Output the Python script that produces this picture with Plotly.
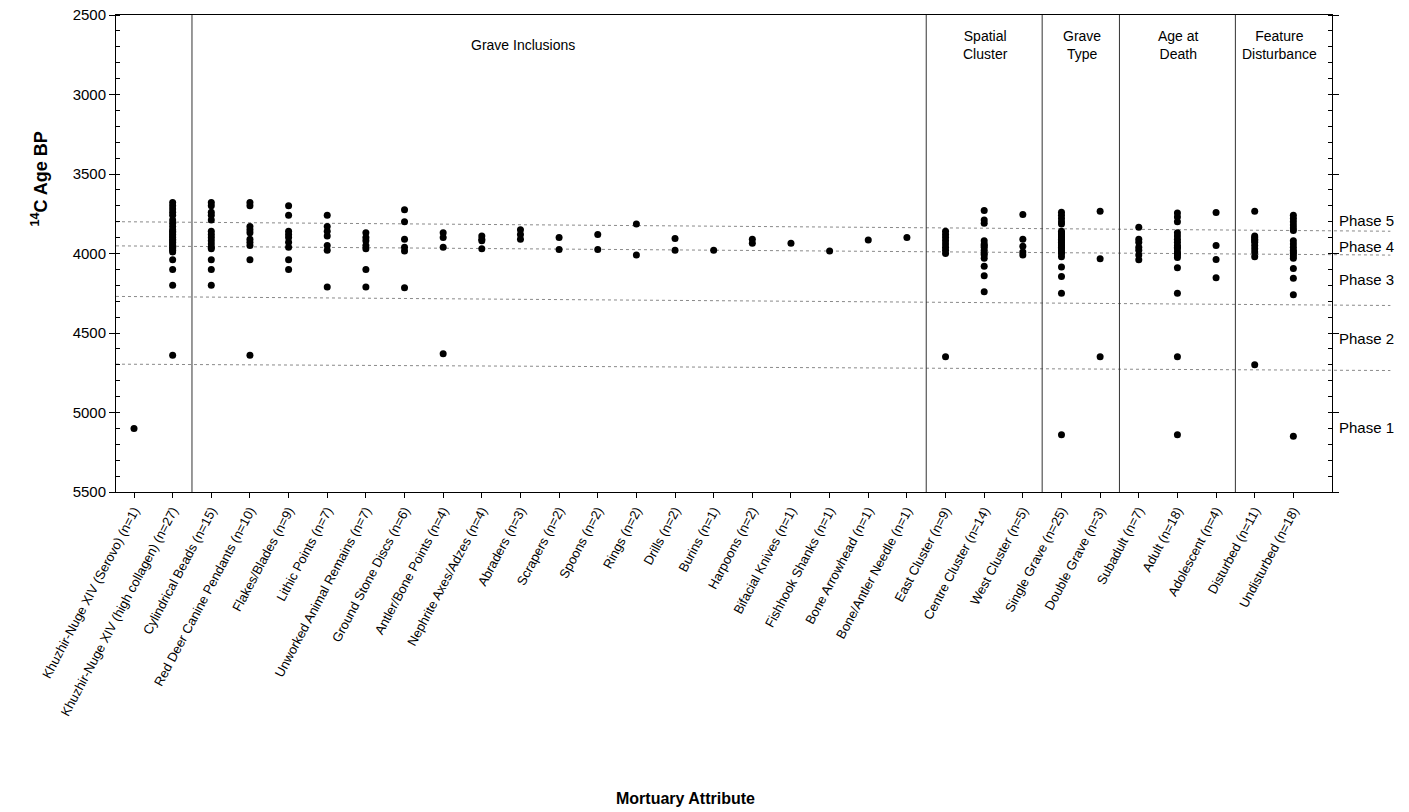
import plotly.graph_objects as go

categories = [
    "Khuzhir-Nuge XIV (Serovo) (n=1)",
    "Khuzhir-Nuge XIV (high collagen) (n=27)",
    "Cylindrical Beads (n=15)",
    "Red Deer Canine Pendants (n=10)",
    "Flakes/Blades (n=9)",
    "Lithic Points (n=7)",
    "Unworked Animal Remains (n=7)",
    "Ground Stone Discs (n=6)",
    "Antler/Bone Points (n=4)",
    "Nephrite Axes/Adzes (n=4)",
    "Abraders (n=3)",
    "Scrapers (n=2)",
    "Spoons (n=2)",
    "Rings (n=2)",
    "Drills (n=2)",
    "Burins (n=1)",
    "Harpoons (n=2)",
    "Bifacial Knives (n=1)",
    "Fishhook Shanks (n=1)",
    "Bone Arrowhead (n=1)",
    "Bone/Antler Needle (n=1)",
    "East Cluster (n=9)",
    "Centre Cluster (n=14)",
    "West Cluster (n=5)",
    "Single Grave (n=25)",
    "Double Grave (n=3)",
    "Subadult (n=7)",
    "Adult (n=18)",
    "Adolescent (n=4)",
    "Disturbed (n=11)",
    "Undisturbed (n=18)",
]

serovo = [5100]
high_collagen = [3680, 3700, 3720, 3740, 3760, 3790, 3810, 3830, 3850, 3860, 3870, 3880,
                 3890, 3900, 3910, 3920, 3930, 3940, 3950, 3960, 3970, 3980, 3990,
                 4040, 4100, 4200, 4640]
cylindrical_beads = [3680, 3700, 3740, 3760, 3790, 3860, 3880, 3900, 3920, 3940, 3960, 3970,
                     4040, 4100, 4200]
red_deer = [3680, 3700, 3830, 3850, 3870, 3910, 3930, 3950, 4040, 4640]
flakes = [3700, 3760, 3860, 3880, 3900, 3930, 3960, 4040, 4100]
lithic_points = [3760, 3830, 3860, 3890, 3950, 3980, 4210]
unworked = [3870, 3900, 3920, 3950, 3970, 4100, 4210]
ground_stone = [3725, 3800, 3910, 3960, 3985, 4215]
antler_points = [3870, 3900, 3960, 4630]
nephrite = [3890, 3910, 3920, 3970]
abraders = [3850, 3880, 3910]
scrapers = [3900, 3975]
spoons = [3880, 3975]
rings = [3815, 4010]
drills = [3905, 3980]
burins = [3980]
harpoons = [3910, 3935]
bifacial = [3935]
fishhook = [3985]
arrowhead = [3915]
needle = [3900]
east_cluster = [3860, 3880, 3900, 3920, 3940, 3960, 3980, 4000, 4650]
centre_cluster = [3730, 3790, 3810, 3920, 3940, 3950, 3960, 3980, 4000, 4010, 4030, 4080,
                  4140, 4240]
west_cluster = [3755, 3910, 3955, 3990, 4010]
single_grave = [3740, 3760, 3780, 3800, 3815, 3860, 3870, 3880, 3890, 3900, 3910, 3920,
                3930, 3940, 3950, 3960, 3970, 3985, 3990, 4000, 4020, 4085, 4145, 4250, 5140]
double_grave = [3735, 4033, 4650]
subadult = [3835, 3910, 3930, 3960, 3980, 4010, 4040]
adult = [3745, 3770, 3800, 3870, 3890, 3910, 3930, 3950, 3960, 3970, 3990, 4000, 4010,
         4025, 4090, 4250, 4650, 5140]
adolescent = [3742, 3950, 4037, 4152]
disturbed = [3735, 3890, 3900, 3910, 3920, 3930, 3950, 3970, 3990, 4020, 4700]
undisturbed = [3760, 3780, 3800, 3820, 3840, 3855, 3920, 3940, 3960, 3980, 3990, 4000,
               4015, 4030, 4095, 4155, 4260, 5150]

series = [serovo, high_collagen, cylindrical_beads, red_deer, flakes, lithic_points, unworked,
          ground_stone, antler_points, nephrite, abraders, scrapers, spoons, rings, drills,
          burins, harpoons, bifacial, fishhook, arrowhead, needle, east_cluster,
          centre_cluster, west_cluster, single_grave, double_grave, subadult, adult,
          adolescent, disturbed, undisturbed]

# group separators (between category positions) and group titles
separators = [2.5, 21.5, 24.5, 26.5, 29.5]
group_titles = ["Grave Inclusions", "Spatial<br>Cluster", "Grave<br>Type",
                "Age at<br>Death", "Feature<br>Disturbance"]
group_title_x = [11.07, 23.03, 25.54, 28.03, 30.65]

# phase boundaries (value at left edge, value at right edge of the scanned chart)
boundary_left = [3800, 3952, 4270, 4696]
boundary_right = [3860, 4010, 4327, 4736]
phase_names = ["Phase 5", "Phase 4", "Phase 3", "Phase 2", "Phase 1"]
phase_label_y = [3792, 3956, 4162, 4537, 5094]

FONT = "Liberation Sans, Arial, sans-serif"

xs, ys = [], []
for i, vals in enumerate(series):
    xs += [i + 1] * len(vals)
    ys += vals

fig = go.Figure()
fig.add_trace(go.Scatter(
    x=xs, y=ys, mode="markers",
    marker=dict(color="black", size=7, line=dict(width=0)),
    showlegend=False, hoverinfo="y",
))

shapes = []
for sx in separators:
    shapes.append(dict(type="line", xref="x", yref="paper", x0=sx, x1=sx, y0=0, y1=1,
                       line=dict(color="#333333", width=1)))
for yl, yr in zip(boundary_left, boundary_right):
    shapes.append(dict(type="line", xref="paper", yref="y", x0=0, x1=1.048, y0=yl, y1=yr,
                       line=dict(color="#8a8a8a", width=1, dash="dot"), layer="below"))

annotations = []
for t, gx in zip(group_titles, group_title_x):
    annotations.append(dict(text=t, x=gx, xref="x", y=0.937, yref="paper",
                            showarrow=False, font=dict(size=14, color="black", family=FONT),
                            xanchor="center", yanchor="middle"))
for name, py in zip(phase_names, phase_label_y):
    annotations.append(dict(text=name, x=1.004, xref="paper", y=py, yref="y",
                            showarrow=False, font=dict(size=15, color="black", family=FONT),
                            xanchor="left", yanchor="middle"))
annotations.append(dict(text="<b><sup>14</sup>C Age BP</b>", x=-0.0625, xref="paper",
                        y=0.655, yref="paper", textangle=-90, showarrow=False,
                        font=dict(size=18, color="black", family=FONT),
                        xanchor="center", yanchor="middle"))
annotations.append(dict(text="<b>Mortuary Attribute</b>", x=0.468, xref="paper",
                        y=-0.6436, yref="paper", showarrow=False,
                        font=dict(size=16, color="black", family=FONT),
                        xanchor="center", yanchor="middle"))

fig.update_layout(
    width=1409, height=812,
    margin=dict(l=116, r=77, t=15, b=320, autoexpand=False),
    paper_bgcolor="white", plot_bgcolor="white",
    font=dict(family=FONT, color="black", size=14),
    shapes=shapes, annotations=annotations,
    xaxis=dict(
        range=[0.534, 32.0], tickmode="array", automargin=False,
        tickvals=list(range(1, len(categories) + 1)), ticktext=categories,
        tickangle=-62, ticks="outside", ticklen=5, tickcolor="black",
        showline=True, linecolor="black", linewidth=1, mirror=True,
        showgrid=False, zeroline=False, tickfont=dict(size=13, family=FONT),
    ),
    yaxis=dict(
        range=[5500, 2500], tickmode="linear", tick0=2500, dtick=500, automargin=False,
        ticks="outside", ticklen=6, tickcolor="black",
        minor=dict(dtick=100, ticks="inside", ticklen=4, tickcolor="black", showgrid=False),
        showline=True, linecolor="black", linewidth=1, mirror="ticks",
        showgrid=False, zeroline=False, tickfont=dict(size=15, family=FONT),
    ),
)

fig.write_html(
    "out.html",
    config={"displayModeBar": False},
    post_script="document.body.style.margin='0';document.body.style.overflow='hidden';",
)
